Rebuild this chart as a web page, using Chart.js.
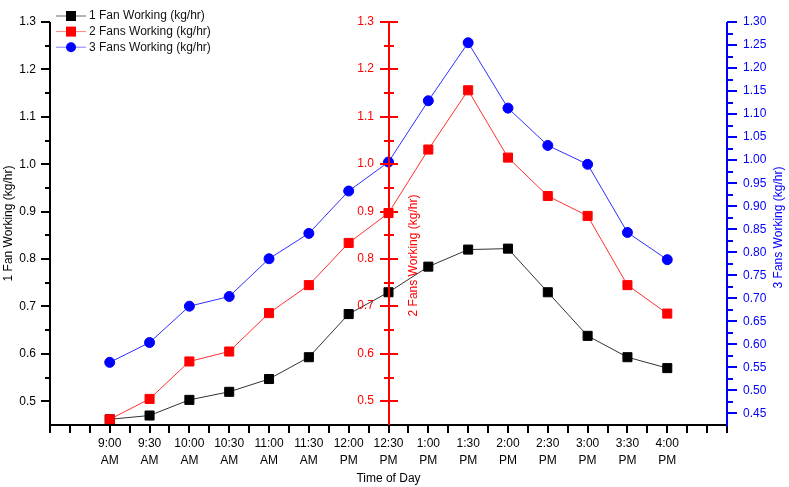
<!DOCTYPE html>
<html><head><meta charset="utf-8">
<script src="https://cdn.jsdelivr.net/npm/chart.js@4"></script>
<style>html,body{margin:0;padding:0;background:#fff}canvas{display:block}</style>
</head><body>
<canvas id="c" width="789" height="487"></canvas>
<script>
const categories = ['9:00 AM','9:30 AM','10:00 AM','10:30 AM','11:00 AM','11:30 AM','12:00 PM','12:30 PM','1:00 PM','1:30 PM','2:00 PM','2:30 PM','3:00 PM','3:30 PM','4:00 PM'];
const oneFan   = [0.462,0.470,0.503,0.520,0.547,0.593,0.684,0.730,0.784,0.820,0.822,0.730,0.638,0.593,0.570];
const twoFans  = [0.462,0.505,0.584,0.605,0.686,0.745,0.834,0.897,1.031,1.156,1.014,0.933,0.891,0.745,0.685];
const threeFans= [0.561,0.604,0.683,0.704,0.786,0.841,0.933,0.996,1.129,1.255,1.113,1.032,0.991,0.843,0.784];
const seriesNames = ['1 Fan Working (kg/hr)','2 Fans Working (kg/hr)','3 Fans Working (kg/hr)'];
const leftTicks  = [0.5,0.6,0.7,0.8,0.9,1.0,1.1,1.2,1.3];
const leftMinor  = [0.55,0.65,0.75,0.85,0.95,1.05,1.15,1.25];
const rightTicks = [0.45,0.50,0.55,0.60,0.65,0.70,0.75,0.80,0.85,0.90,0.95,1.00,1.05,1.10,1.15,1.20,1.25,1.30];
const rightMinor = [0.475,0.525,0.575,0.625,0.675,0.725,0.775,0.825,0.875,0.925,0.975,1.025,1.075,1.125,1.175,1.225,1.275];
const xTickMarks = [-1.5,-1,-0.5,0,0.5,1,1.5,2,2.5,3,3.5,4,4.5,5,5.5,6,6.5,7,7.5,8,8.5,9,9.5,10,10.5,11,11.5,12,12.5,13,13.5,14,14.5,15,15.5];
const midAxisAt = 7; // 12:30 PM

const FONT = "'Liberation Sans', Arial, sans-serif";
const toPts = arr => arr.map((v,i)=>({x:i,y:v}));

function seg(ctx,x1,y1,x2,y2,color,w){
  ctx.beginPath();ctx.strokeStyle=color;ctx.lineWidth=w;ctx.moveTo(x1,y1);ctx.lineTo(x2,y2);ctx.stroke();
}

const decor = {
  id:'decor',
  afterDatasetsDraw(chart){
    const {ctx, chartArea:a, scales} = chart;
    const sx=scales.x, sy=scales.y, sy2=scales.y2, sy3=scales.y3;
    ctx.save();
    // bottom axis
    seg(ctx,a.left-1,a.bottom,a.right+1,a.bottom,'#000',2);
    xTickMarks.forEach(v=>{const px=Math.round(sx.getPixelForValue(v));seg(ctx,px,a.bottom,px,a.bottom+8,'#000',2);});
    // left axis
    seg(ctx,a.left,a.top,a.left,a.bottom,'#000',2);
    leftTicks.forEach(v=>{const py=Math.round(sy.getPixelForValue(v));seg(ctx,a.left-9,py,a.left,py,'#000',2);});
    leftMinor.forEach(v=>{const py=Math.round(sy.getPixelForValue(v));seg(ctx,a.left-5,py,a.left,py,'#000',2);});
    // right axis
    seg(ctx,a.right,a.top,a.right,a.bottom+1,'#0000ff',2);
    rightTicks.forEach(v=>{const py=Math.round(sy3.getPixelForValue(v));seg(ctx,a.right,py,a.right+10,py,'#0000ff',2);});
    rightMinor.forEach(v=>{const py=Math.round(sy3.getPixelForValue(v));seg(ctx,a.right,py,a.right+6,py,'#0000ff',2);});
    // middle red axis
    const mx=Math.round(sx.getPixelForValue(midAxisAt));
    seg(ctx,mx,a.top,mx,a.bottom,'#ff0000',2);
    ctx.font='12px '+FONT;ctx.fillStyle='#ff0000';ctx.textAlign='right';ctx.textBaseline='middle';
    leftTicks.forEach(v=>{const py=Math.round(sy2.getPixelForValue(v));seg(ctx,mx-9,py,mx+9,py,'#ff0000',2);ctx.fillText(v.toFixed(1),mx-15,py);});
    leftMinor.forEach(v=>{const py=Math.round(sy2.getPixelForValue(v));seg(ctx,mx-5,py,mx+5,py,'#ff0000',2);});
    // middle title
    ctx.save();ctx.translate(mx+25,(a.top+a.bottom)/2+32);ctx.rotate(-Math.PI/2);
    ctx.textAlign='center';ctx.fillStyle='#ff0000';ctx.fillText(seriesNames[1],0,0);ctx.restore();
    // right title
    ctx.save();ctx.translate(779,(a.top+a.bottom)/2+4);ctx.rotate(-Math.PI/2);
    ctx.textAlign='center';ctx.fillStyle='#0000ff';ctx.fillText(seriesNames[2],0,0);ctx.restore();
    // legend
    chart.data.datasets.forEach((ds,i)=>{
      const y=16+i*15.6;
      seg(ctx,56,y,86,y,ds.legendLine,1);
      ctx.fillStyle=ds.backgroundColor;
      if(ds.pointStyle==='circle'){ctx.beginPath();ctx.arc(71,y,5,0,Math.PI*2);ctx.fill();}
      else ctx.fillRect(66,y-5,10,10);
      ctx.fillStyle='#111';ctx.textAlign='left';ctx.fillText(ds.label,89,y);
    });
    ctx.restore();
  }
};

new Chart(document.getElementById('c'),{
  type:'line',
  data:{datasets:[
    {label:seriesNames[0],data:toPts(oneFan),yAxisID:'y',borderColor:'#333',legendLine:'#666',backgroundColor:'#000',pointBackgroundColor:'#000',pointBorderColor:'#000',pointStyle:'rect',pointRadius:6.4,pointBorderWidth:1,borderWidth:1,order:3},
    {label:seriesNames[1],data:toPts(twoFans),yAxisID:'y2',borderColor:'#ff3030',legendLine:'#ff8080',backgroundColor:'#ff0000',pointBackgroundColor:'#ff0000',pointBorderColor:'#ff0000',pointStyle:'rect',pointRadius:6.4,pointBorderWidth:1,borderWidth:1,order:2},
    {label:seriesNames[2],data:toPts(threeFans),yAxisID:'y3',borderColor:'#3030ff',legendLine:'#8080ff',backgroundColor:'#0000ff',pointBackgroundColor:'#0000ff',pointBorderColor:'#0000ff',pointStyle:'circle',pointRadius:5,pointBorderWidth:1,borderWidth:1,order:1}
  ]},
  options:{
    responsive:false,animation:false,
    layout:{padding:{top:6,left:0,right:0,bottom:0}},
    plugins:{legend:{display:false},tooltip:{enabled:false}},
    elements:{line:{tension:0}},
    scales:{
      x:{type:'linear',min:-1.5,max:15.5,
        grid:{display:false,drawTicks:false},border:{display:false},
        afterBuildTicks:s=>{s.ticks=categories.map((c,i)=>({value:i}));},
        afterFit:s=>{s.height=62;},
        ticks:{autoSkip:false,maxRotation:0,minRotation:0,padding:11,color:'#000',font:{family:FONT,size:12,lineHeight:1.35},
          callback:v=>categories[v]?categories[v].split(' '):''},
        title:{display:true,text:'Time of Day',color:'#000',font:{family:FONT,size:12},padding:{top:0,bottom:1}}
      },
      y:{type:'linear',position:'left',min:0.45,max:1.3,
        grid:{display:false,drawTicks:false},border:{display:false},
        afterBuildTicks:s=>{s.ticks=leftTicks.map(v=>({value:v}));},
        afterFit:s=>{s.width=50;},
        ticks:{padding:14,color:'#000',font:{family:FONT,size:12,lineHeight:1},callback:v=>Number(v).toFixed(1)},
        title:{display:true,text:seriesNames[0],color:'#000',font:{family:FONT,size:12},padding:{top:1,bottom:0}}
      },
      y2:{type:'linear',display:false,min:0.45,max:1.3},
      y3:{type:'linear',position:'right',min:0.425,max:1.30,
        grid:{display:false,drawTicks:false},border:{display:false},
        afterBuildTicks:s=>{s.ticks=rightTicks.map(v=>({value:v}));},
        afterFit:s=>{s.width=62;},
        ticks:{padding:16,color:'#0000ff',font:{family:FONT,size:12,lineHeight:1},callback:v=>Number(v).toFixed(2)},
        title:{display:false}
      }
    }
  },
  plugins:[decor]
});
</script>
</body></html>
